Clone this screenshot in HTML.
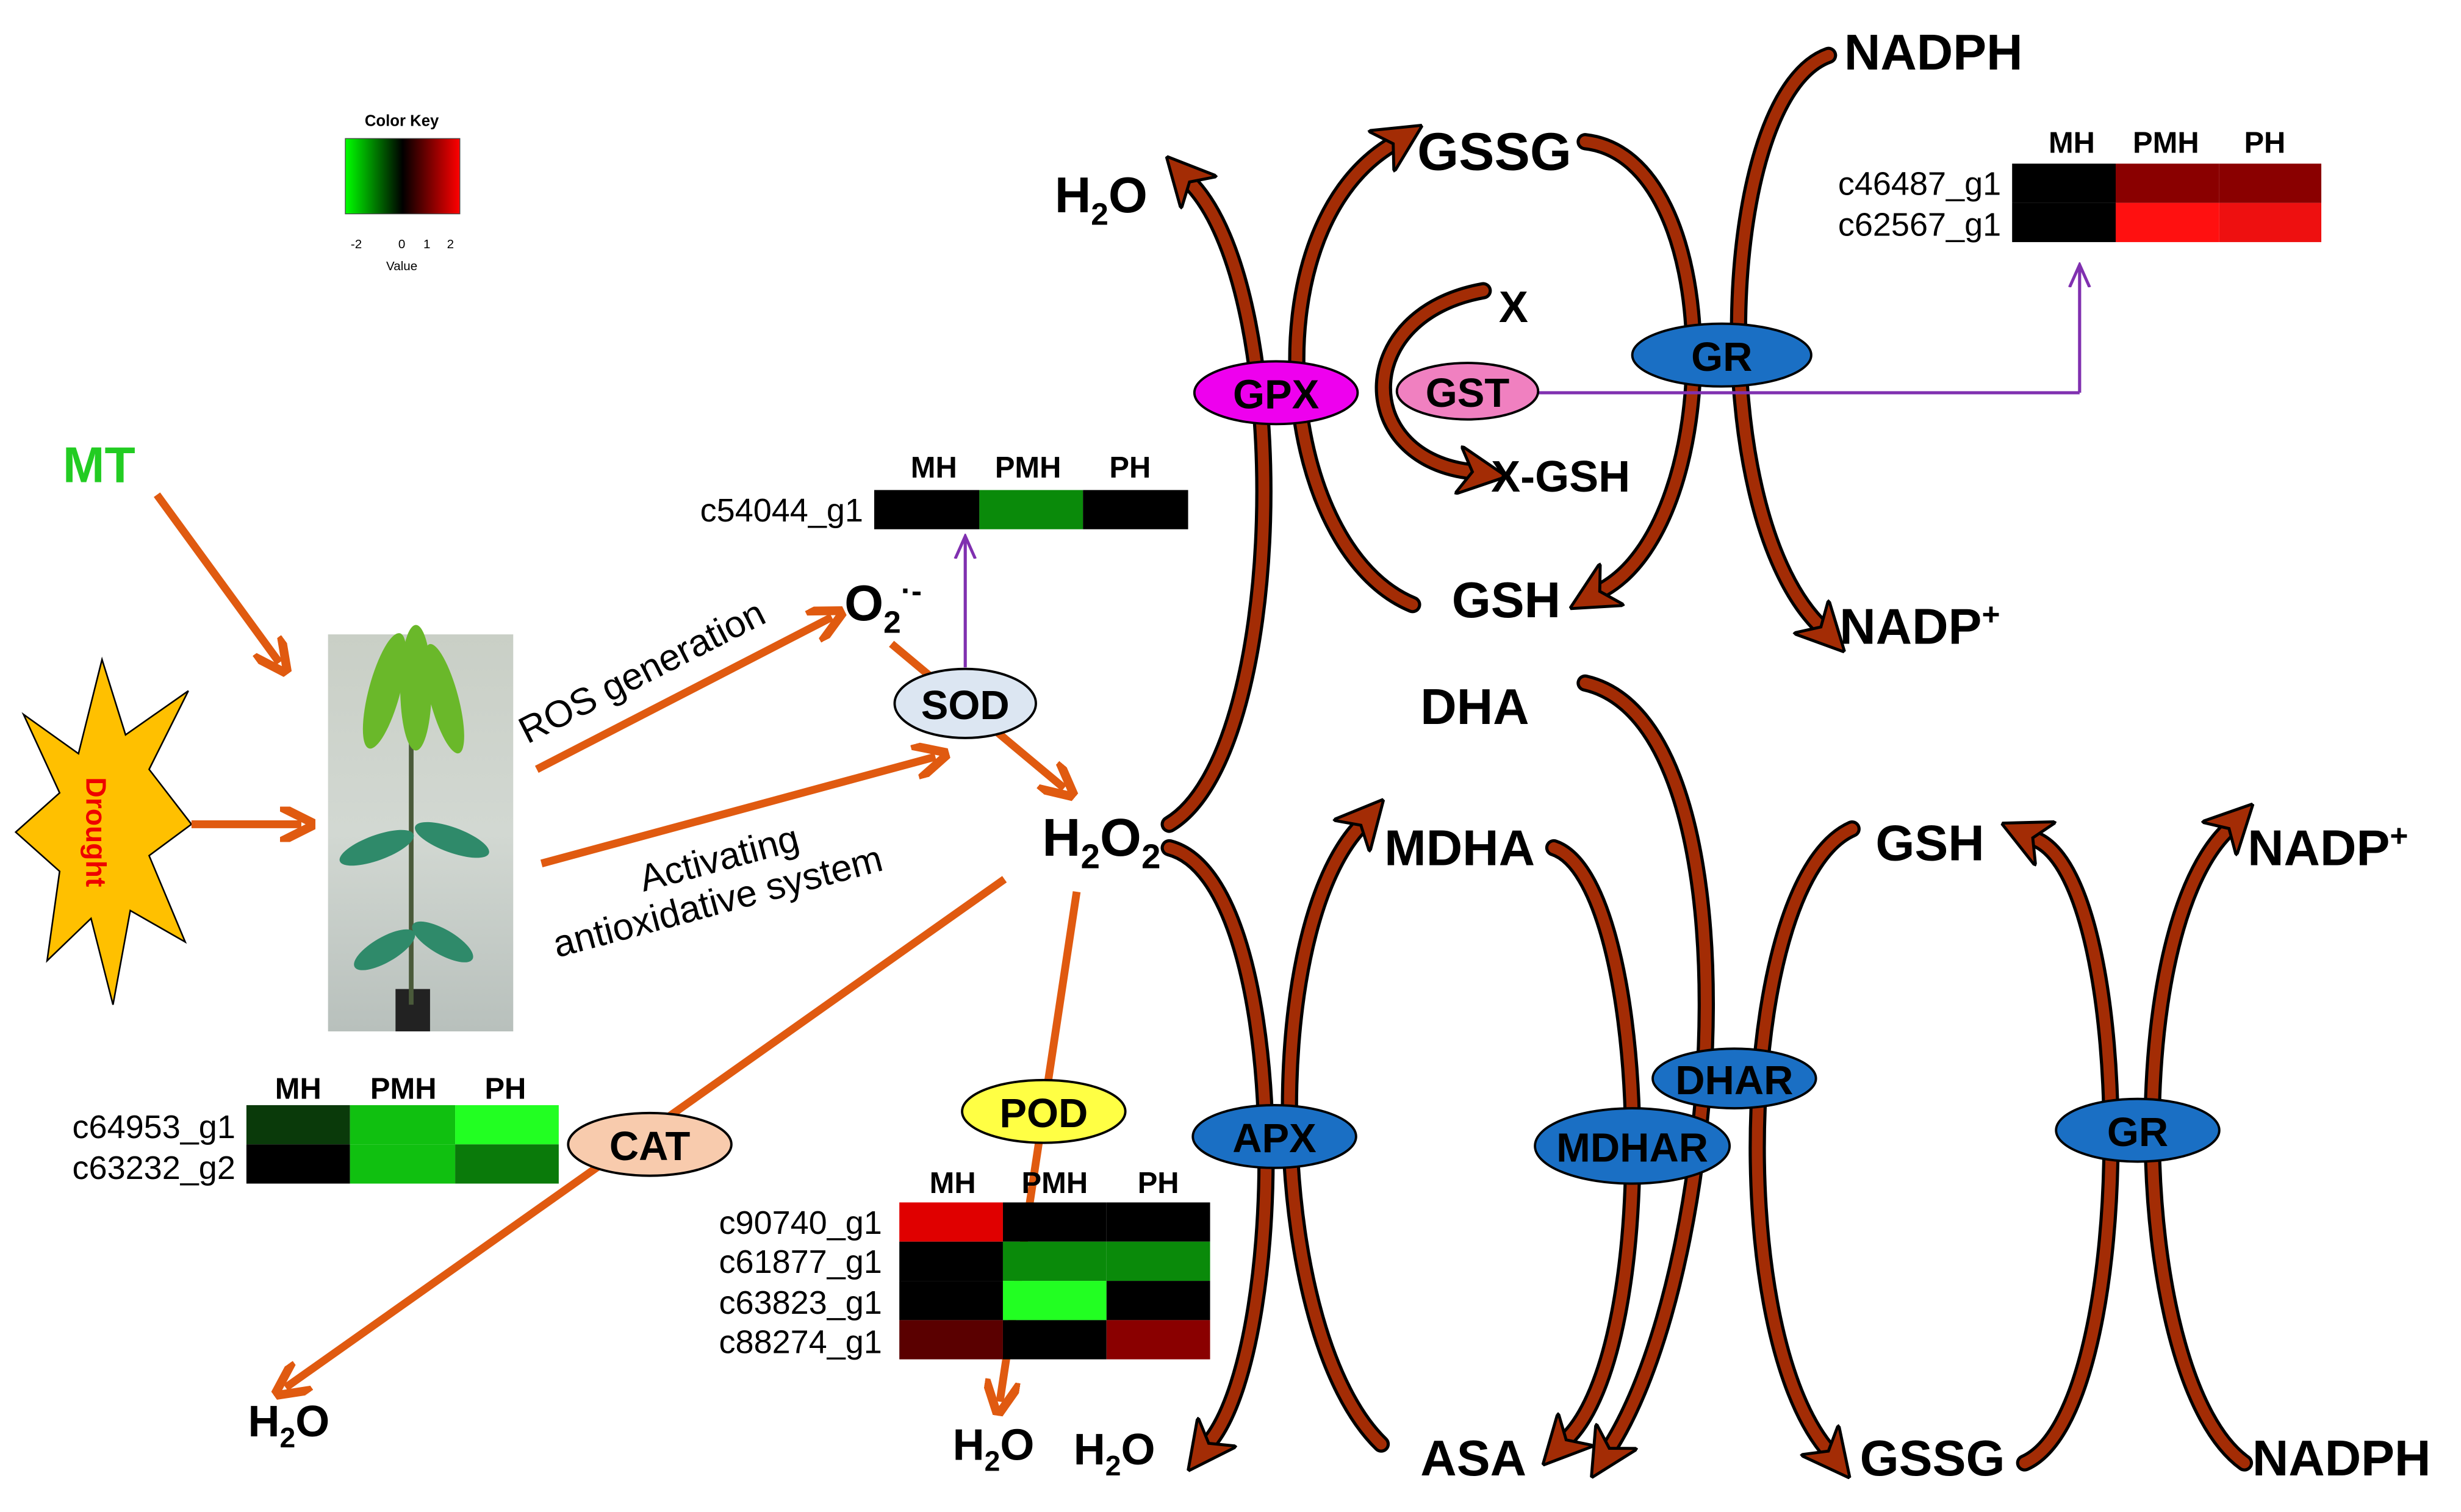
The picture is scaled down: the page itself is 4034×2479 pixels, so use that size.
<!DOCTYPE html>
<html><head><meta charset="utf-8"><style>
html,body{margin:0;padding:0;background:#fff;}
svg{display:block;}
text{font-family:"Liberation Sans",Arial,sans-serif;}
.b{font-weight:bold;fill:#000;}
.g{font-size:21px;fill:#000;}
</style></head><body>
<svg width="4034" height="2479" viewBox="0 0 1568 963" xmlns="http://www.w3.org/2000/svg">
<defs>
<marker id="ao" viewBox="0 0 10 10" refX="6" refY="5" markerWidth="4.5" markerHeight="4.5" orient="auto"><path d="M0,0 L10,5 L0,10" fill="none" stroke="#e05a10" stroke-width="2.5"/></marker>
<marker id="ab" viewBox="0 0 10 10" refX="2" refY="5" markerWidth="4.5" markerHeight="4.5" orient="auto"><path d="M0,0 L10,5 L0,10 L3,5 Z" fill="#a32c05" stroke="#000" stroke-width="0.6"/></marker>
<marker id="ap" viewBox="0 0 10 10" refX="8" refY="5" markerWidth="8" markerHeight="8" orient="auto"><path d="M0,1 L9,5 L0,9" fill="none" stroke="#8030b0" stroke-width="1.2"/></marker>
<linearGradient id="ck" x1="0" x2="1"><stop offset="0" stop-color="#00ff00"/><stop offset="0.5" stop-color="#000"/><stop offset="1" stop-color="#ff0000"/></linearGradient>
<linearGradient id="ph" x1="0" x2="0" y1="0" y2="1"><stop offset="0" stop-color="#c9cfc6"/><stop offset="0.5" stop-color="#d2d8d2"/><stop offset="1" stop-color="#b8c0bc"/></linearGradient>
</defs>

<text x="256" y="80" font-size="10" font-weight="bold" text-anchor="middle">Color Key</text>
<rect x="220" y="88" width="73" height="48" fill="url(#ck)" stroke="#444" stroke-width="0.5"/>
<g font-size="8" text-anchor="middle"><text x="227" y="158">-2</text><text x="256" y="158">0</text><text x="272" y="158">1</text><text x="287" y="158">2</text><text x="256" y="172">Value</text></g>

<text x="40" y="307" font-size="32" font-weight="bold" fill="#22cc22">MT</text>
<line x1="100" y1="315" x2="178" y2="422" stroke="#e05a10" stroke-width="5" marker-end="url(#ao)"/>
<polygon points="65,420 80,468 120,440 95,490 122,525 95,545 118,600 83,580 72,640 58,585 30,612 38,555 10,530 38,505 15,455 50,480" fill="#ffc000" stroke="#000" stroke-width="1"/>
<text transform="translate(55,530) rotate(90)" font-size="18" font-weight="bold" fill="#e00" text-anchor="middle">Drought</text>
<line x1="122" y1="525" x2="192" y2="525" stroke="#e05a10" stroke-width="5" marker-end="url(#ao)"/>

<rect x="209" y="404" width="118" height="253" fill="url(#ph)"/>
<rect x="252" y="630" width="22" height="27" fill="#222"/>
<path d="M262,640 L262,430" stroke="#4a5a3a" stroke-width="3"/>
<g fill="#6ab82a">
<ellipse cx="245" cy="440" rx="10" ry="38" transform="rotate(15 245 440)"/>
<ellipse cx="265" cy="438" rx="10" ry="40"/>
<ellipse cx="283" cy="445" rx="9" ry="36" transform="rotate(-15 283 445)"/>
</g>
<g fill="#2f8a6a">
<ellipse cx="240" cy="540" rx="25" ry="8" transform="rotate(-20 240 540)"/>
<ellipse cx="288" cy="535" rx="25" ry="8" transform="rotate(20 288 535)"/>
<ellipse cx="245" cy="605" rx="22" ry="8" transform="rotate(-30 245 605)"/>
<ellipse cx="282" cy="600" rx="22" ry="8" transform="rotate(30 282 600)"/>
</g>

<line x1="342" y1="490" x2="530" y2="393" stroke="#e05a10" stroke-width="5" marker-end="url(#ao)"/>
<text transform="translate(336,474) rotate(-27)" font-size="24">ROS generation</text>
<line x1="345" y1="550" x2="596" y2="482" stroke="#e05a10" stroke-width="5" marker-end="url(#ao)"/>
<text transform="translate(410,568) rotate(-15)" font-size="24">Activating</text>
<text transform="translate(355,610) rotate(-15)" font-size="24">antioxidative system</text>

<text x="538" y="395" class="b" font-size="32">O<tspan font-size="20" dy="8">2</tspan><tspan font-size="20" dy="-20">·-</tspan></text>
<line x1="568" y1="410" x2="678" y2="502" stroke="#e05a10" stroke-width="5" marker-end="url(#ao)"/>
<line x1="615" y1="425" x2="615" y2="343" stroke="#8030b0" stroke-width="2" marker-end="url(#ap)"/>
<ellipse cx="615" cy="448" rx="45" ry="22" fill="#dce6f2" stroke="#000" stroke-width="1.5"/>
<text x="615" y="458" class="b" font-size="26" text-anchor="middle">SOD</text>

<g font-size="19" font-weight="bold" text-anchor="middle"><text x="595" y="304">MH</text><text x="655" y="304">PMH</text><text x="720" y="304">PH</text></g>
<rect x="557" y="312" width="67" height="25" fill="#000"/><rect x="624" y="312" width="66" height="25" fill="#0a8a0a"/><rect x="690" y="312" width="67" height="25" fill="#000"/>
<text x="550" y="332" class="g" text-anchor="end">c54044_g1</text>

<text x="664" y="545" class="b" font-size="34">H<tspan font-size="22" dy="8">2</tspan><tspan dy="-8">O</tspan><tspan font-size="22" dy="8">2</tspan></text>

<line x1="640" y1="560" x2="182" y2="884" stroke="#e05a10" stroke-width="5" marker-end="url(#ao)"/>
<text x="158" y="915" class="b" font-size="28">H<tspan font-size="18" dy="7">2</tspan><tspan dy="-7">O</tspan></text>
<ellipse cx="414" cy="729" rx="52" ry="20" fill="#f8cbad" stroke="#000" stroke-width="1.5"/>
<text x="414" y="739" class="b" font-size="26" text-anchor="middle">CAT</text>
<g font-size="19" font-weight="bold" text-anchor="middle"><text x="190" y="700">MH</text><text x="257" y="700">PMH</text><text x="322" y="700">PH</text></g>
<rect x="157" y="704" width="66" height="25" fill="#0a3a0a"/><rect x="223" y="704" width="67" height="25" fill="#10c010"/><rect x="290" y="704" width="66" height="25" fill="#22ff22"/>
<rect x="157" y="729" width="66" height="25" fill="#000"/><rect x="223" y="729" width="67" height="25" fill="#10c010"/><rect x="290" y="729" width="66" height="25" fill="#0a7a0a"/>
<text x="150" y="725" class="g" text-anchor="end">c64953_g1</text>
<text x="150" y="751" class="g" text-anchor="end">c63232_g2</text>

<line x1="686" y1="568" x2="637" y2="893" stroke="#e05a10" stroke-width="5" marker-end="url(#ao)"/>
<text x="607" y="930" class="b" font-size="28">H<tspan font-size="18" dy="7">2</tspan><tspan dy="-7">O</tspan></text>
<ellipse cx="665" cy="708" rx="52" ry="20" fill="#ffff44" stroke="#000" stroke-width="1.5"/>
<text x="665" y="718" class="b" font-size="26" text-anchor="middle">POD</text>
<g font-size="19" font-weight="bold" text-anchor="middle"><text x="607" y="760">MH</text><text x="672" y="760">PMH</text><text x="738" y="760">PH</text></g>
<g>
<rect x="573" y="766" width="66" height="25" fill="#e00000"/><rect x="639" y="766" width="66" height="25" fill="#000"/><rect x="705" y="766" width="66" height="25" fill="#000"/>
<rect x="573" y="791" width="66" height="25" fill="#000"/><rect x="639" y="791" width="66" height="25" fill="#0a8a0a"/><rect x="705" y="791" width="66" height="25" fill="#0a8a0a"/>
<rect x="573" y="816" width="66" height="25" fill="#000"/><rect x="639" y="816" width="66" height="25" fill="#22ff22"/><rect x="705" y="816" width="66" height="25" fill="#000"/>
<rect x="573" y="841" width="66" height="25" fill="#5a0000"/><rect x="639" y="841" width="66" height="25" fill="#000"/><rect x="705" y="841" width="66" height="25" fill="#8a0000"/>
</g>
<text x="562" y="786" class="g" text-anchor="end">c90740_g1</text>
<text x="562" y="811" class="g" text-anchor="end">c61877_g1</text>
<text x="562" y="837" class="g" text-anchor="end">c63823_g1</text>
<text x="562" y="862" class="g" text-anchor="end">c88274_g1</text>

<g fill="none" stroke-linecap="round">
<g stroke="#000" stroke-width="11">
<path d="M745,525 C820,480 825,190 760,118"/>
<path d="M900,385 C815,350 795,150 885,93"/>
<path d="M1010,90 C1100,100 1100,330 1022,375"/>
<path d="M1165,35 C1095,60 1085,320 1158,397"/>
<path d="M945,185 C862,200 862,290 935,300"/>
<path d="M745,540 C822,560 822,850 772,917"/>
<path d="M880,920 C808,850 802,600 865,528"/>
<path d="M990,540 C1050,560 1060,850 1000,915"/>
<path d="M1010,435 C1120,460 1100,800 1027,920"/>
<path d="M1180,528 C1108,560 1098,840 1163,922"/>
<path d="M1290,932 C1362,900 1362,565 1298,535"/>
<path d="M1430,932 C1358,880 1350,600 1418,530"/>
</g>
<g stroke="#a32c05" stroke-width="7">
<path d="M745,525 C820,480 825,190 760,118" marker-end="url(#ab)"/>
<path d="M900,385 C815,350 795,150 885,93" marker-end="url(#ab)"/>
<path d="M1010,90 C1100,100 1100,330 1022,375" marker-end="url(#ab)"/>
<path d="M1165,35 C1095,60 1085,320 1158,397" marker-end="url(#ab)"/>
<path d="M945,185 C862,200 862,290 935,300" marker-end="url(#ab)"/>
<path d="M745,540 C822,560 822,850 772,917" marker-end="url(#ab)"/>
<path d="M880,920 C808,850 802,600 865,528" marker-end="url(#ab)"/>
<path d="M990,540 C1050,560 1060,850 1000,915" marker-end="url(#ab)"/>
<path d="M1010,435 C1120,460 1100,800 1027,920" marker-end="url(#ab)"/>
<path d="M1180,528 C1108,560 1098,840 1163,922" marker-end="url(#ab)"/>
<path d="M1290,932 C1362,900 1362,565 1298,535" marker-end="url(#ab)"/>
<path d="M1430,932 C1358,880 1350,600 1418,530" marker-end="url(#ab)"/>
</g>
</g>

<text x="672" y="135" class="b" font-size="32">H<tspan font-size="20" dy="8">2</tspan><tspan dy="-8">O</tspan></text>
<text x="903" y="108" class="b" font-size="34">GSSG</text>
<text x="1175" y="44" class="b" font-size="32">NADPH</text>
<text x="955" y="205" class="b" font-size="28">X</text>
<text x="950" y="313" class="b" font-size="28">X-GSH</text>
<text x="925" y="393" class="b" font-size="32">GSH</text>
<text x="1172" y="410" class="b" font-size="32">NADP<tspan font-size="20" dy="-12">+</tspan></text>

<line x1="980" y1="250" x2="1325" y2="250" stroke="#8030b0" stroke-width="2"/>
<line x1="1325" y1="250" x2="1325" y2="170" stroke="#8030b0" stroke-width="2" marker-end="url(#ap)"/>
<ellipse cx="813" cy="250" rx="52" ry="20" fill="#ee00ee" stroke="#000" stroke-width="1.5"/>
<text x="813" y="260" class="b" font-size="26" text-anchor="middle">GPX</text>
<ellipse cx="935" cy="249" rx="45" ry="18" fill="#f080c0" stroke="#000" stroke-width="1.5"/>
<text x="935" y="259" class="b" font-size="26" text-anchor="middle">GST</text>
<ellipse cx="1097" cy="226" rx="57" ry="20" fill="#1a6fc4" stroke="#000" stroke-width="1.5"/>
<text x="1097" y="236" class="b" font-size="26" text-anchor="middle">GR</text>

<g font-size="19" font-weight="bold" text-anchor="middle"><text x="1320" y="97">MH</text><text x="1380" y="97">PMH</text><text x="1443" y="97">PH</text></g>
<rect x="1282" y="104" width="66" height="25" fill="#000"/><rect x="1348" y="104" width="66" height="25" fill="#8a0000"/><rect x="1414" y="104" width="65" height="25" fill="#8a0000"/>
<rect x="1282" y="129" width="66" height="25" fill="#000"/><rect x="1348" y="129" width="66" height="25" fill="#ff1010"/><rect x="1414" y="129" width="65" height="25" fill="#ee1010"/>
<text x="1275" y="124" class="g" text-anchor="end">c46487_g1</text>
<text x="1275" y="150" class="g" text-anchor="end">c62567_g1</text>

<text x="882" y="551" class="b" font-size="32">MDHA</text>
<text x="905" y="461" class="b" font-size="32">DHA</text>
<text x="1195" y="548" class="b" font-size="32">GSH</text>
<text x="1432" y="551" class="b" font-size="32">NADP<tspan font-size="20" dy="-12">+</tspan></text>
<text x="684" y="933" class="b" font-size="28">H<tspan font-size="18" dy="7">2</tspan><tspan dy="-7">O</tspan></text>
<text x="905" y="940" class="b" font-size="32">ASA</text>
<text x="1185" y="940" class="b" font-size="32">GSSG</text>
<text x="1435" y="940" class="b" font-size="32">NADPH</text>

<ellipse cx="812" cy="724" rx="52" ry="20" fill="#1a6fc4" stroke="#000" stroke-width="1.5"/>
<text x="812" y="734" class="b" font-size="26" text-anchor="middle">APX</text>
<ellipse cx="1105" cy="687" rx="52" ry="19" fill="#1a6fc4" stroke="#000" stroke-width="1.5"/>
<text x="1105" y="697" class="b" font-size="26" text-anchor="middle">DHAR</text>
<ellipse cx="1040" cy="730" rx="62" ry="24" fill="#1a6fc4" stroke="#000" stroke-width="1.5"/>
<text x="1040" y="740" class="b" font-size="26" text-anchor="middle">MDHAR</text>
<ellipse cx="1362" cy="720" rx="52" ry="20" fill="#1a6fc4" stroke="#000" stroke-width="1.5"/>
<text x="1362" y="730" class="b" font-size="26" text-anchor="middle">GR</text>
</svg>
</body></html>
